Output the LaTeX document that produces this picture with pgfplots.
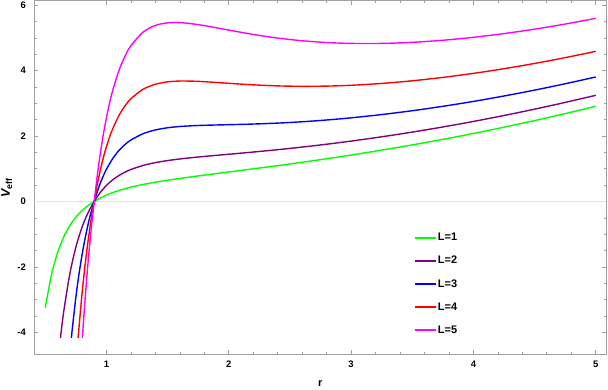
\documentclass[border=0pt]{standalone}
\usepackage{fontspec}
\setmainfont{Liberation Sans}
\usepackage{pgfplots}
\pgfplotsset{compat=1.18}
\usetikzlibrary{calc}
\definecolor{cgreen}{RGB}{0,255,0}
\definecolor{cpurple}{RGB}{128,0,128}
\definecolor{cblue}{RGB}{0,0,255}
\definecolor{cred}{RGB}{255,0,0}
\definecolor{cmag}{RGB}{255,0,255}
\definecolor{framegray}{RGB}{160,160,160}

\begin{document}
\begin{tikzpicture}
\begin{axis}[
  name=ax,
  scale only axis,
  width=571.7bp, height=353.6bp,
  xmin=0.41, xmax=5.084, ymin=-4.67, ymax=6.14,
  xtick={1,2,3,4,5}, ytick={-4,-2,0,2,4,6},
  minor x tick num=4, minor y tick num=3,
  tick align=inside,
  major tick length=4bp, minor tick length=2.5bp,
  axis line style={framegray, line width=0.8bp},
  every tick/.style={framegray, line width=0.7bp},
  /pgf/number format/assume math mode=true,
  ticklabel style={font=\fontsize{9.5}{10}\selectfont\bfseries},
  xticklabel style={yshift=-3.4bp},
  yticklabel style={xshift=-5bp},
  xlabel={\bfseries r},
  xlabel style={at={(axis description cs:0.5,0)}, anchor=north, yshift=-23bp, font=\fontsize{11}{12}\selectfont},
  ylabel={{\bfseries\itshape V}\textsubscript{\bfseries eff}},
  ylabel style={at={(axis description cs:0,0.47)}, anchor=center, yshift=27.5bp, font=\fontsize{12.5}{13}\selectfont},
  legend style={draw=none, fill=none, at={(axis description cs:0.658,0.353)}, anchor=north west,
    font=\fontsize{11}{12}\selectfont\bfseries, row sep=11bp,
    nodes={inner sep=1.5bp}},
  legend cell align=left,
  legend image code/.code={\draw[#1, line width=1.8bp] (0bp,0bp) -- (21bp,0bp);},
  every axis plot/.append style={line width=1.4bp, smooth},
]
\draw[gray!22, line width=1.3bp] (axis cs:0.41,0) -- (axis cs:5.084,0);

% L=1
\addplot[cgreen] coordinates {
 (0.5,-3.247) (0.55,-2.2485) (0.6,-1.567) (0.65,-1.0865) (0.7,-0.7377)
 (0.75,-0.4772) (0.8,-0.2783) (0.85,-0.1230) (0.9,0) (0.95,0.1084)
 (1.0,0.1976) (1.05,0.2723) (1.1,0.3361) (1.15,0.3911) (1.2,0.4397)
 (1.3,0.5221) (1.4,0.5911) (1.5,0.6516) (1.6,0.7066) (1.7,0.7579)
 (1.8,0.8075) (2.0,0.9038) (2.2,0.9998) (2.4,1.0984) (2.6,1.2010)
 (2.8,1.3087) (3.0,1.4218) (3.25,1.5717) (3.5,1.7313) (3.75,1.9012)
 (4.0,2.0817) (4.25,2.2729) (4.5,2.4749) (4.75,2.6878) (5.0,2.912)};
\addlegendentry{L=1}

% L=2
\addplot[cpurple] coordinates {
 (0.6237,-4.17) (0.65,-3.378) (0.7,-2.2230) (0.75,-1.3935) (0.8,-0.7874)
 (0.85,-0.3373) (0.9,0) (0.95,0.2792) (1.0,0.494) (1.05,0.6609)
 (1.1,0.7923) (1.15,0.8963) (1.2,0.9803) (1.3,1.1043) (1.4,1.1902)
 (1.5,1.2531) (1.6,1.3020) (1.7,1.3425) (1.8,1.3790) (2.0,1.446)
 (2.2,1.5134) (2.4,1.5858) (2.6,1.6654) (2.8,1.7527) (3.0,1.8483)
 (3.25,1.9794) (3.5,2.1233) (3.75,2.2798) (4.0,2.4490) (4.25,2.6306)
 (4.5,2.8242) (4.75,3.0301) (5.0,3.248)};
\addlegendentry{L=2}

% L=3
\addplot[cblue] coordinates {
 (0.7133,-4.17) (0.72,-3.915) (0.75,-2.9206) (0.775,-2.2283) (0.8,-1.6358)
 (0.825,-1.1307) (0.85,-0.6944) (0.875,-0.3202) (0.9,0) (0.925,0.3029)
 (0.95,0.5640) (0.975,0.7913) (1.0,0.988) (1.05,1.3085) (1.1,1.5526)
 (1.15,1.7382) (1.2,1.8814) (1.3,2.0747) (1.4,2.1886) (1.5,2.2555)
 (1.6,2.2944) (1.7,2.3167) (1.8,2.3313) (2.0,2.3498) (2.2,2.3694)
 (2.4,2.3982) (2.6,2.4393) (2.8,2.4930) (3.0,2.5592) (3.25,2.6591)
 (3.5,2.7767) (3.75,2.9110) (4.0,3.0613) (4.25,3.2267) (4.5,3.4065)
 (4.75,3.6005) (5.0,3.808)};
\addlegendentry{L=3}

% L=4
\addplot[cred] coordinates {
 (0.768,-4.17) (0.8,-2.8236) (0.825,-1.9483) (0.85,-1.1943) (0.875,-0.5496)
 (0.9,0) (0.925,0.5181) (0.95,0.9626) (0.975,1.3480) (1.0,1.6796)
 (1.025,1.9670) (1.05,2.2151) (1.1,2.6170) (1.15,2.9169) (1.2,3.1428)
 (1.3,3.4333) (1.4,3.5866) (1.5,3.6590) (1.6,3.6837) (1.7,3.6806)
 (1.8,3.6645) (2.0,3.615) (2.2,3.5678) (2.4,3.5357) (2.6,3.5228)
 (2.8,3.5292) (3.0,3.5545) (3.25,3.6105) (3.5,3.6914) (3.75,3.7946)
 (4.0,3.9184) (4.25,4.0612) (4.5,4.2218) (4.75,4.3989) (5.0,4.592)};
\addlegendentry{L=4}

% L=5
\addplot[cmag] coordinates {
 (0.8032,-4.17) (0.81,-3.785) (0.825,-2.9995) (0.85,-1.8371) (0.875,-0.8447)
 (0.9,0) (0.925,0.7948) (0.95,1.4752) (0.975,2.0639) (1.0,2.5688)
 (1.025,3.0051) (1.05,3.3808) (1.1,3.9856) (1.15,4.4324) (1.2,4.7647)
 (1.3,5.1801) (1.4,5.3837) (1.5,5.4634) (1.6,5.4700) (1.7,5.4343)
 (1.8,5.3787) (2.0,5.2418) (2.2,5.1086) (2.4,4.9981) (2.6,4.9157)
 (2.8,4.8615) (3.0,4.8341) (3.25,4.8338) (3.5,4.8674) (3.75,4.9306)
 (4.0,5.0204) (4.25,5.1344) (4.5,5.2701) (4.75,5.4255) (5.0,5.6)};
\addlegendentry{L=5}
\end{axis}
\pgfresetboundingbox
\path ($(ax.south west)+(-34.3bp,-34.7bp)$) rectangle ($(ax.north east)+(2bp,0.7bp)$);
\end{tikzpicture}
\end{document}
